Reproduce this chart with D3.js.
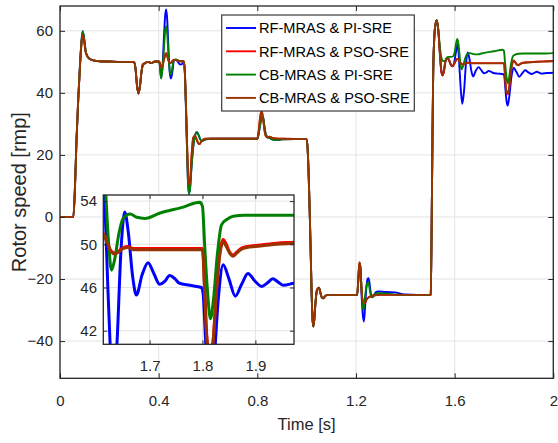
<!DOCTYPE html>
<html><head><meta charset="utf-8">
<script src="https://cdn.jsdelivr.net/npm/d3@7"></script>
<style>body{margin:0;background:#fff}svg{display:block}</style>
</head><body>
<svg id="chart" width="558" height="443"></svg>
<script>
// ---------- data ----------
const seriesNames = ["RF-MRAS & PI-SRE", "RF-MRAS & PSO-SRE", "CB-MRAS & PI-SRE", "CB-MRAS & PSO-SRE"];
const seriesColors = ["#0000ff", "#ff0000", "#008000", "#993300"];
const xTicks = [0, 0.4, 0.8, 1.2, 1.6, 2];
const yTicks = [-40, -20, 0, 20, 40, 60];
const insetXTicks = [1.7, 1.8, 1.9];
const insetYTicks = [42, 46, 50, 54];

// 0 – 0.40 s  (start-up and first load step)
const startPI = [[0,0],[0.054,0],[0.060,8],[0.067,25],[0.074,38],[0.081,49],[0.087,56.5],[0.092,59.9],[0.098,57.5],[0.104,53.5],[0.111,51.8],[0.120,51],[0.135,50.5],[0.160,50.2],[0.200,50.1],[0.250,50],[0.300,50],[0.306,48],[0.312,42.5],[0.318,39.8],[0.324,42],[0.330,46.5],[0.336,49.1],[0.345,49.6],[0.355,50],[0.371,49.6],[0.385,50.1],[0.400,50.1]];
const startPSO = [[0,0],[0.054,0],[0.060,8],[0.067,25],[0.074,38],[0.081,48.5],[0.087,55.8],[0.092,58.8],[0.098,56.8],[0.104,53.2],[0.111,51.8],[0.120,51],[0.135,50.5],[0.160,50.2],[0.200,50.1],[0.250,50],[0.300,50],[0.306,48],[0.312,42.5],[0.318,39.8],[0.324,42],[0.330,46.5],[0.336,49.1],[0.345,49.6],[0.355,50],[0.371,49.6],[0.385,50.1],[0.400,50.1]];

// 0.40 – 0.50 s
const blueB  = [[0.404,49.5],[0.410,44.8],[0.416,49],[0.422,59],[0.427,65.5],[0.431,66.9],[0.435,63],[0.440,54],[0.445,46.5],[0.450,44.6],[0.456,47],[0.462,50.5],[0.470,50.7],[0.478,50],[0.487,49.1],[0.495,49.3],[0.502,50]];
const redB   = [[0.404,49.8],[0.410,48.3],[0.416,49],[0.422,51],[0.427,52.5],[0.431,52.9],[0.435,52],[0.440,50.5],[0.445,49.6],[0.450,49.7],[0.456,50.3],[0.462,50.6],[0.470,50.6],[0.478,50.3],[0.487,50.2],[0.495,50.2],[0.502,50.2]];
const greenB = [[0.404,49.3],[0.410,44.6],[0.416,48],[0.422,55],[0.427,60.5],[0.431,61.5],[0.435,58.5],[0.440,52],[0.445,47],[0.450,45.9],[0.456,48.5],[0.462,50.5],[0.470,50.8],[0.478,50.5],[0.487,50.2],[0.495,50.2],[0.502,50.2]];
const brownB = [[0.404,49.8],[0.410,48.0],[0.416,48.8],[0.422,50.8],[0.427,52.1],[0.431,52.4],[0.435,51.6],[0.440,50.3],[0.445,49.6],[0.450,49.7],[0.456,50.3],[0.462,50.6],[0.470,50.6],[0.478,50.3],[0.487,50.2],[0.495,50.2],[0.502,50.2]];

// 0.50 – 1.205 s
const midPI = [[0.506,47],[0.510,37],[0.514,25],[0.518,13],[0.522,7.5],[0.527,9],[0.533,16],[0.540,22.5],[0.547,26],[0.554,27.3],[0.560,26.8],[0.566,25.5],[0.573,24.5],[0.580,24.6],[0.590,25.0],[0.610,25.2],[0.700,25.2],[0.800,25.2],[0.806,27],[0.812,30],[0.818,32],[0.823,32.3],[0.829,29],[0.835,26.5],[0.842,25.8],[0.850,25.5],[0.860,25],[0.875,24.8],[0.900,25],[0.950,25.1],[1.000,25.1],[1.004,22],[1.008,14],[1.012,3],[1.016,-10],[1.020,-24],[1.024,-33],[1.027,-35.3],[1.031,-33],[1.036,-27.5],[1.042,-23.5],[1.050,-22.8],[1.056,-24.5],[1.062,-26],[1.068,-26.2],[1.075,-25.5],[1.085,-25.1],[1.150,-25.1],[1.205,-25.1]];
const midPSO = [[0.506,47],[0.510,38],[0.514,27],[0.518,16],[0.522,10.4],[0.527,11],[0.533,19],[0.540,25.5],[0.547,26.2],[0.554,25],[0.560,23.8],[0.566,23.5],[0.573,24.3],[0.580,24.9],[0.590,25.2],[0.700,25.2],[0.800,25.2],[0.806,28],[0.812,32.5],[0.818,34.0],[0.823,32],[0.829,28],[0.835,26],[0.842,25.6],[0.850,25.9],[0.860,25.5],[0.875,25.3],[0.900,25.2],[1.000,25.1],[1.004,22],[1.008,14],[1.012,3],[1.016,-10],[1.020,-24],[1.024,-33],[1.027,-35.3],[1.031,-33],[1.036,-27.5],[1.042,-23.5],[1.050,-22.8],[1.056,-24.5],[1.062,-26],[1.068,-26.2],[1.075,-25.5],[1.085,-25.1],[1.150,-25.1],[1.205,-25.1]];

// 1.205 – 1.50 s
const blueD  = [[1.210,-20],[1.214,-15.5],[1.218,-17],[1.222,-24],[1.227,-31],[1.232,-33.7],[1.237,-29],[1.242,-23],[1.247,-20],[1.251,-19.7],[1.256,-22],[1.261,-25],[1.266,-25.9],[1.272,-25.3],[1.280,-24.3],[1.290,-24.0],[1.320,-24.2],[1.360,-24.3],[1.380,-24.7],[1.400,-25.0],[1.450,-25.1],[1.500,-25.1]];
const redD   = [[1.210,-19],[1.214,-14.8],[1.217,-15.5],[1.221,-21],[1.225,-26],[1.230,-27.5],[1.236,-27.8],[1.242,-26.8],[1.250,-26],[1.260,-25.6],[1.270,-25.3],[1.300,-25.1],[1.400,-25.1],[1.500,-25.1]];
const greenD = [[1.210,-19.5],[1.214,-15.0],[1.218,-16],[1.222,-22],[1.226,-28],[1.230,-29.9],[1.235,-27],[1.240,-23.5],[1.245,-21.5],[1.250,-21.1],[1.255,-23],[1.260,-25.3],[1.266,-25.8],[1.275,-25.0],[1.290,-24.6],[1.330,-24.7],[1.360,-25],[1.400,-25.1],[1.500,-25.1]];
const brownD = [[1.210,-19],[1.214,-14.6],[1.217,-15.5],[1.221,-21],[1.225,-26],[1.230,-27.5],[1.236,-27.8],[1.242,-26.8],[1.250,-26],[1.260,-25.6],[1.270,-25.3],[1.300,-25.1],[1.400,-25.1],[1.500,-25.1]];

// 1.50 – 2.0 s
const blueE  = [[1.503,-25],[1.507,-1],[1.510,25],[1.513,46],[1.517,57],[1.522,62],[1.528,63.4],[1.534,60],[1.540,53],[1.546,47],[1.551,45.6],[1.557,47.5],[1.564,50.5],[1.572,51.3],[1.580,50],[1.587,48.8],[1.593,48.6],[1.600,50.5],[1.606,53.5],[1.612,55.6],[1.616,53],[1.620,47.5],[1.626,40],[1.631,36.5],[1.638,40.5],[1.646,49.5],[1.653,53.0],[1.660,51],[1.668,47],[1.675,45.3],[1.686,47.2],[1.697,48.3],[1.708,47.3],[1.719,46.3],[1.729,46.6],[1.738,47.1],[1.748,46.8],[1.756,46.4],[1.776,46.2],[1.798,46.0],[1.801,45.5],[1.806,41],[1.811,37],[1.815,35.9],[1.821,38.5],[1.830,45],[1.839,48.1],[1.850,46.8],[1.862,45.2],[1.874,46.3],[1.886,47.3],[1.899,46.6],[1.912,46.1],[1.922,46.4],[1.933,46.8],[1.943,46.5],[1.953,46.2],[1.973,46.4],[2.000,46.5]];
const redE   = [[1.503,-25],[1.507,-1],[1.510,25],[1.513,46],[1.517,57],[1.522,62],[1.528,63.4],[1.534,60],[1.540,53],[1.546,47],[1.551,45.6],[1.557,47],[1.563,50.5],[1.572,51.3],[1.580,50],[1.586,48.8],[1.592,48.6],[1.600,49.6],[1.606,50.6],[1.612,51.0],[1.620,50.2],[1.627,49.4],[1.634,49.2],[1.642,49.4],[1.650,49.7],[1.659,49.8],[1.670,49.6],[1.720,49.6],[1.760,49.6],[1.800,49.6],[1.804,46],[1.808,41.5],[1.814,39.5],[1.820,41],[1.826,45.5],[1.832,49],[1.839,50.45],[1.845,50],[1.851,49.3],[1.858,49.0],[1.865,49.3],[1.872,49.6],[1.884,49.8],[1.900,49.9],[1.920,50.0],[1.940,50.1],[1.973,50.2],[2.000,50.3]];
const greenE = [[1.503,-25],[1.507,-1],[1.510,25],[1.513,46],[1.517,57],[1.522,62],[1.528,63.4],[1.534,60],[1.540,55],[1.546,51.5],[1.552,50.3],[1.561,50.2],[1.568,51.4],[1.576,51.6],[1.585,51.6],[1.594,51.8],[1.600,53],[1.606,56],[1.611,57.4],[1.616,55.5],[1.622,50.5],[1.628,47.6],[1.634,48.6],[1.642,51],[1.650,52.4],[1.663,52.8],[1.676,52.5],[1.691,52.4],[1.720,52.9],[1.760,53.4],[1.795,53.9],[1.800,53.5],[1.804,50],[1.809,46],[1.815,43.1],[1.821,45],[1.828,49],[1.836,51.8],[1.846,52.3],[1.858,52.6],[1.880,52.7],[1.920,52.7],[1.973,52.7],[2.000,52.8]];
const brownE = [[1.503,-25],[1.507,-1],[1.510,25],[1.513,46],[1.517,57],[1.522,62],[1.528,63.2],[1.534,60],[1.540,53],[1.546,47],[1.551,45.8],[1.557,47],[1.563,50.3],[1.572,51.1],[1.580,50],[1.586,48.9],[1.592,48.7],[1.600,49.6],[1.606,50.5],[1.612,50.9],[1.620,50.1],[1.627,49.3],[1.634,49.1],[1.642,49.3],[1.650,49.6],[1.659,49.7],[1.670,49.5],[1.720,49.5],[1.760,49.5],[1.800,49.5],[1.804,46],[1.808,41.5],[1.814,39.7],[1.820,41],[1.826,45.3],[1.832,48.7],[1.839,50.2],[1.845,49.8],[1.851,49.2],[1.858,48.9],[1.865,49.2],[1.872,49.5],[1.884,49.7],[1.900,49.8],[1.920,49.9],[1.940,50.0],[1.973,50.1],[2.000,50.2]];

const seriesData = [
  startPI.concat(blueB, midPI, blueD, blueE),
  startPSO.concat(redB, midPSO, redD, redE),
  startPI.concat(greenB, midPI, greenD, greenE),
  startPSO.concat(brownB, midPSO, brownD, brownE)
];

// ---------- drawing ----------
const FONT = "'Liberation Sans', Arial, Helvetica, sans-serif";
const AX = "#262626", GRID = "#e3e3e3";
const svg = d3.select("#chart");
svg.append("rect").attr("width", 558).attr("height", 443).attr("fill", "#fff");

const m = {l: 60, r: 553.3, t: 6, b: 378.3};
const x = d3.scaleLinear().domain([0, 2]).range([m.l, m.r]);
const y = d3.scaleLinear().domain([-52, 68]).range([m.b, m.t]);

svg.append("defs").call(d => {
  d.append("clipPath").attr("id", "mainClip").append("rect")
    .attr("x", m.l).attr("y", m.t).attr("width", m.r - m.l).attr("height", m.b - m.t);
});

// grid
const grid = svg.append("g");
grid.selectAll("line.gx").data(xTicks).join("line")
  .attr("x1", d => x(d)).attr("x2", d => x(d)).attr("y1", m.t).attr("y2", m.b)
  .attr("stroke", GRID).attr("stroke-width", 1);
grid.selectAll("line.gy").data(yTicks).join("line").attr("class", "gy")
  .attr("x1", m.l).attr("x2", m.r).attr("y1", d => y(d)).attr("y2", d => y(d))
  .attr("stroke", GRID).attr("stroke-width", 1);

// lines
const line = d3.line().x(d => x(d[0])).y(d => y(d[1])).curve(d3.curveMonotoneX);
const lg = svg.append("g").attr("clip-path", "url(#mainClip)");
seriesData.forEach((s, i) => {
  lg.append("path").datum(s).attr("d", line).attr("fill", "none")
    .attr("stroke", seriesColors[i]).attr("stroke-width", 1.9).attr("stroke-linejoin", "round");
});

// axes
function styleAxis(g, showLabels) {
  g.select(".domain").remove();
  g.selectAll(".tick line").attr("stroke", AX).attr("stroke-width", 1);
  g.selectAll(".tick text").attr("fill", AX).style("font-family", FONT).style("font-size", "15px");
  if (!showLabels) g.selectAll(".tick text").remove();
}
svg.append("g").attr("transform", `translate(0,${m.b})`)
  .call(d3.axisBottom(x).tickValues(xTicks).tickSize(-5).tickPadding(17.5).tickFormat(d3.format("~g")))
  .call(g => styleAxis(g, true));
svg.append("g").attr("transform", `translate(0,${m.t})`)
  .call(d3.axisTop(x).tickValues(xTicks).tickSize(-5)).call(g => styleAxis(g, false));
svg.append("g").attr("transform", `translate(${m.l},0)`)
  .call(d3.axisLeft(y).tickValues(yTicks).tickSize(-5).tickPadding(7).tickFormat(d3.format("~g")))
  .call(g => styleAxis(g, true));
svg.append("g").attr("transform", `translate(${m.r},0)`)
  .call(d3.axisRight(y).tickValues(yTicks).tickSize(-5)).call(g => styleAxis(g, false));
svg.append("rect").attr("x", m.l).attr("y", m.t).attr("width", m.r - m.l).attr("height", m.b - m.t)
  .attr("fill", "none").attr("stroke", AX).attr("stroke-width", 1.3);

// axis titles
svg.append("text").attr("x", (m.l + m.r) / 2).attr("y", 430).attr("text-anchor", "middle")
  .style("font-family", FONT).style("font-size", "16.5px").attr("fill", AX).text("Time [s]");
svg.append("text").attr("transform", `translate(26,${(m.t + m.b) / 2}) rotate(-90)`)
  .attr("text-anchor", "middle").style("font-family", FONT).style("font-size", "20px")
  .attr("fill", AX).text("Rotor speed [rmp]");

// legend
const leg = svg.append("g");
leg.append("rect").attr("x", 221.7).attr("y", 15).attr("width", 192.6).attr("height", 96)
  .attr("fill", "#fff").attr("stroke", "#3a3a3a").attr("stroke-width", 1.2);
seriesNames.forEach((n, i) => {
  const yy = 28 + i * 23.3;
  leg.append("line").attr("x1", 226).attr("x2", 256).attr("y1", yy).attr("y2", yy)
    .attr("stroke", seriesColors[i]).attr("stroke-width", 1.9);
  leg.append("text").attr("x", 259).attr("y", yy).attr("dy", "0.36em")
    .style("font-family", FONT).style("font-size", "14.6px").attr("fill", "#000").text(n);
});

// ---------- inset ----------
const im = {l: 103.3, r: 294, t: 195, b: 344.3};
const xi = d3.scaleLinear().domain([1.6125, 1.973]).range([im.l, im.r]);
const yi = d3.scaleLinear().domain([40.74, 54.565]).range([im.b, im.t]);
svg.select("defs").append("clipPath").attr("id", "insetClip").append("rect")
  .attr("x", im.l).attr("y", im.t).attr("width", im.r - im.l).attr("height", im.b - im.t);
const ins = svg.append("g");
ins.append("rect").attr("x", im.l).attr("y", im.t).attr("width", im.r - im.l).attr("height", im.b - im.t)
  .attr("fill", "#fff");
ins.selectAll("line.igx").data(insetXTicks).join("line").attr("class", "igx")
  .attr("x1", d => xi(d)).attr("x2", d => xi(d)).attr("y1", im.t).attr("y2", im.b)
  .attr("stroke", GRID).attr("stroke-width", 1);
ins.selectAll("line.igy").data(insetYTicks).join("line").attr("class", "igy")
  .attr("x1", im.l).attr("x2", im.r).attr("y1", d => yi(d)).attr("y2", d => yi(d))
  .attr("stroke", GRID).attr("stroke-width", 1);
const iline = d3.line().x(d => xi(d[0])).y(d => yi(d[1])).curve(d3.curveMonotoneX);
const il = ins.append("g").attr("clip-path", "url(#insetClip)");
seriesData.forEach((s, i) => {
  il.append("path").datum(s).attr("d", iline).attr("fill", "none")
    .attr("stroke", seriesColors[i]).attr("stroke-width", 3).attr("stroke-linejoin", "round");
});
ins.append("g").attr("transform", `translate(0,${im.b})`)
  .call(d3.axisBottom(xi).tickValues(insetXTicks).tickSize(-4).tickPadding(16).tickFormat(d3.format(".1f")))
  .call(g => styleAxis(g, true));
ins.append("g").attr("transform", `translate(0,${im.t})`)
  .call(d3.axisTop(xi).tickValues(insetXTicks).tickSize(-4)).call(g => styleAxis(g, false));
ins.append("g").attr("transform", `translate(${im.l},0)`)
  .call(d3.axisLeft(yi).tickValues(insetYTicks).tickSize(-4).tickPadding(6.3))
  .call(g => styleAxis(g, true));
ins.append("g").attr("transform", `translate(${im.r},0)`)
  .call(d3.axisRight(yi).tickValues(insetYTicks).tickSize(-4)).call(g => styleAxis(g, false));
ins.append("rect").attr("x", im.l).attr("y", im.t).attr("width", im.r - im.l).attr("height", im.b - im.t)
  .attr("fill", "none").attr("stroke", AX).attr("stroke-width", 1.3);
</script>
</body></html>
